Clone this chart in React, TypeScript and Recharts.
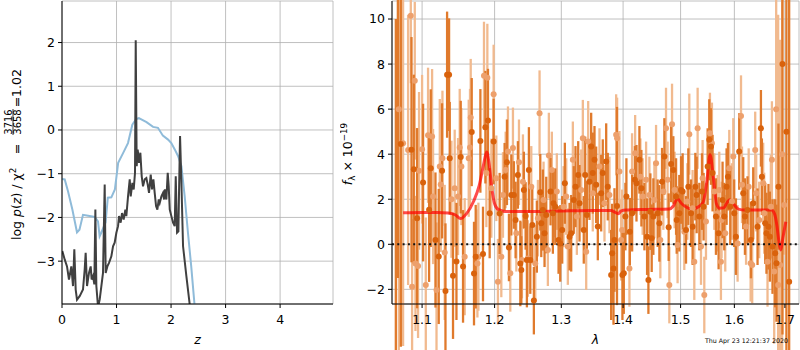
import React from 'react';
import {
  LineChart,
  ComposedChart,
  Line,
  Scatter,
  ErrorBar,
  XAxis,
  YAxis,
  CartesianGrid,
  ReferenceLine,
} from 'recharts';

const FONT = 'DejaVu Sans';

// ---------- Left panel: log p(z) ----------
const pzBlueZ = [0, 0.05, 0.11, 0.19, 0.275, 0.32, 0.385, 0.48, 0.6, 0.66, 0.69, 0.72, 0.8, 0.84, 0.905, 0.97, 1.03, 1.12, 1.21, 1.29, 1.36, 1.41, 1.55, 1.67, 1.76, 1.85, 1.945, 2.005, 2.07, 2.13, 2.19, 2.25, 2.31, 2.37, 2.43, 2.5];
const pzBlueLogP = [-1.12, -1.13, -1.4, -1.82, -2.34, -2.28, -1.94, -1.96, -1.99, -2.09, -2.43, -2.35, -2.11, -1.55, -1.54, -1.36, -0.75, -0.53, -0.3, 0.12, 0.25, 0.27, 0.18, 0.07, 0.05, -0.13, -0.22, -0.3, -0.45, -0.6, -0.83, -1.52, -2.35, -3.12, -3.99, -4.8];

const pzDarkZ = [0.006, 0.049, 0.092, 0.128, 0.171, 0.202, 0.226, 0.251, 0.275, 0.324, 0.385, 0.416, 0.434, 0.459, 0.495, 0.526, 0.544, 0.569, 0.593, 0.612, 0.63, 0.661, 0.691, 0.722, 0.752, 0.783, 0.801, 0.832, 0.862, 0.905, 0.936, 0.966, 0.997, 1.028, 1.046, 1.076, 1.101, 1.131, 1.162, 1.18, 1.211, 1.242, 1.26, 1.291, 1.315, 1.339, 1.352, 1.37, 1.388, 1.413, 1.437, 1.462, 1.486, 1.517, 1.547, 1.572, 1.596, 1.627, 1.651, 1.676, 1.7, 1.725, 1.749, 1.774, 1.792, 1.823, 1.853, 1.872, 1.89, 1.914, 1.939, 1.957, 1.976, 2.006, 2.037, 2.067, 2.086, 2.11, 2.135, 2.147, 2.165, 2.19, 2.22, 2.281, 2.343, 2.4];
const pzDarkLogP = [-2.77, -2.96, -3.12, -3.42, -3.12, -3.57, -2.73, -3.65, -3.88, -3.8, -3.65, -3.19, -2.81, -3.57, -3.27, -3.12, -3.42, -3.34, -3.53, -1.82, -3.57, -4.05, -3.88, -3.57, -3.27, -1.25, -3.27, -3.12, -3.04, -2.89, -2.66, -2.58, -2.35, -2.2, -1.97, -2.12, -1.9, -2.05, -1.82, -1.97, -1.52, -1.13, -1.52, -1.21, -1.36, -0.98, 2.05, -0.83, -0.45, -0.75, -0.52, -1.06, -1.29, -1.13, -1.1, -1.25, -1.44, -1.02, -1.36, -1.13, -1.44, -1.74, -1.82, -1.59, -1.67, -1.52, -1.44, -1.59, -1.36, -1.59, -0.98, -1.29, -1.82, -1.97, -2.12, -2.2, -1.06, -2.35, -2.32, -1.36, -0.14, -1.21, -2.66, -3.34, -4.0, -4.8];

const zTicks = [0, 1, 2, 3, 4];
const logpTicks = [-3, -2, -1, 0, 1, 2];

// ---------- Right panel: spectrum ----------
// [lambda (micron), flux (1e-19), error]
const grismA: [number, number, number][] = [
  [1.0697, 6, 12], [1.0752, 4.49, 9], [1.0817, 4.19, 6], [1.0852, 10.15, 3], [1.0869, -1.88, 3], [1.0904, 7.26, 3.5], [1.0913, -0.85, 3], [1.0947, -0.96, 3.2], [1.096, 3.26, 3.5], [1.1, 4.22, 3.3],
  [1.1049, -1.81, 3], [1.1079, 4.84, 3], [1.1133, 4.78, 3], [1.1146, 2.12, 3], [1.1192, -2.03, 3], [1.1236, 3.45, 3], [1.1249, 2.66, 3], [1.1272, 3.82, 3], [1.1303, -0.36, 3], [1.1394, 2.0, 2.6],
  [1.1439, 2.49, 2.6], [1.1485, 2.12, 2.6], [1.1508, 4.3, 2.6], [1.1531, 3.45, 2.6], [1.1577, -0.55, 2.6], [1.1633, 3.82, 2.6], [1.1651, 4.3, 2.6], [1.1661, 5.63, 2.6], [1.1755, -0.85, 2.4], [1.1769, -0.55, 2.4],
  [1.1848, 7.48, 2.4], [1.1882, 3.16, 2.4], [1.1896, 7.39, 2.4], [1.1953, 2.49, 2.2], [1.1986, 6.66, 2.2], [1.2025, 2.93, 1.9], [1.2048, -1.66, 1.9], [1.2097, -0.55, 1.8], [1.2121, 2.19, 1.9], [1.216, 3.3, 1.7],
  [1.2194, 4.12, 2.0], [1.2228, -1.29, 1.7], [1.2267, 4.27, 1.8], [1.2317, 0.49, 1.7], [1.2356, 3.64, 1.9], [1.24, -0.7, 1.7], [1.2415, 2.78, 2.1], [1.2489, -0.63, 1.7], [1.254, 2.56, 1.8], [1.26, -0.85, 1.7],
  [1.264, 1.16, 1.7], [1.2665, 5.82, 1.9], [1.2726, 1.97, 1.7], [1.2792, -0.25, 1.6], [1.2807, 3.94, 1.9], [1.2853, 3.3, 1.7], [1.293, 2.34, 1.7], [1.3035, 1.67, 1.8], [1.3077, 2.12, 1.7], [1.3102, -0.1, 1.7],
  [1.3181, 3.75, 1.7], [1.3245, 1.23, 1.7], [1.3314, 2.41, 1.8], [1.334, 4.71, 1.7], [1.3394, -0.33, 1.7], [1.3426, 4.56, 1.8], [1.35, 2.27, 1.7], [1.3609, 3.45, 1.7], [1.3691, 1.82, 1.7], [1.3773, 2.19, 1.7],
  [1.3884, 4.86, 1.8], [1.39, 4.71, 1.8], [1.3939, 3.23, 1.8], [1.3967, 0.19, 1.8], [1.3984, 0.63, 1.8], [1.4107, -1.07, 1.7], [1.4152, 3.23, 1.7], [1.4204, 4.04, 1.7], [1.4294, 3.0, 1.7], [1.4333, 2.12, 1.7],
  [1.4392, 2.86, 1.7], [1.4449, 2.19, 1.7], [1.4536, 1.97, 1.7], [1.4565, 3.6, 1.7], [1.464, 0.19, 1.7], [1.4693, 2.34, 1.7], [1.474, 5.15, 1.8], [1.4768, 2.86, 1.7], [1.4799, -1.81, 1.7], [1.4847, 5.33, 1.8],
  [1.4893, 2.41, 1.7], [1.4946, -0.03, 1.7], [1.5067, 0.56, 1.7], [1.5122, 1.9, 1.7], [1.5158, 4.89, 1.8], [1.5218, 1.6, 1.7], [1.5249, -0.77, 1.7], [1.531, 5.15, 1.8], [1.5372, -0.1, 1.7], [1.5402, 2.93, 1.7],
  [1.5433, -2.25, 1.7], [1.5464, 1.01, 1.7], [1.5538, 4.93, 1.8], [1.5575, 4.49, 1.8], [1.5619, 2.34, 1.7], [1.5681, 1.38, 1.7], [1.5713, 2.41, 1.7], [1.5744, -0.77, 1.7], [1.5756, 1.08, 1.7], [1.5826, 0.49, 1.7],
  [1.5902, 3.38, 1.7], [1.5954, 1.9, 1.7], [1.5979, 3.9, 1.7], [1.6062, 0.04, 1.7], [1.6128, 5.7, 1.8], [1.6147, 2.64, 1.7], [1.6226, 0.79, 1.7], [1.6277, 2.56, 1.7], [1.6315, -0.84, 1.7], [1.6346, -0.92, 1.7],
  [1.6405, 4.19, 1.7], [1.6425, 2.27, 1.7], [1.6484, 1.08, 1.7], [1.6563, 2.71, 1.8], [1.6583, 1.38, 1.8], [1.6649, -0.77, 2.0], [1.6716, 1.67, 2.3], [1.6737, 3.75, 2.6], [1.6783, -1.21, 3.2], [1.6823, 6, 6],
  [1.6863, -1.81, 12], [1.6903, -0.92, 10], [1.6944, 4, 9], [1.6985, 1.74, 2.2],
];

const grismB: [number, number, number][] = [
  [1.0659, -3.0, 13], [1.0685, 11.5, 13], [1.0723, 4.45, 9], [1.0861, 4.2, 5], [1.0891, 3.33, 4.2], [1.0934, 1.16, 4], [1.1013, 2.74, 3.5], [1.1093, 1.53, 3.2], [1.1115, 3.38, 3.5], [1.1178, 0.19, 3],
  [1.1222, -0.54, 3], [1.1267, 3.26, 3], [1.1313, -2.07, 3], [1.1335, 7.53, 2.8], [1.1362, 7.53, 2.5], [1.1371, 3.82, 2.5], [1.1416, -1.4, 2.8], [1.1463, -0.76, 2.6], [1.1522, 3.87, 2.5], [1.1554, -0.98, 2.5],
  [1.1675, 4.98, 2.4], [1.1707, -1.3, 2.3], [1.1731, -0.55, 2.3], [1.1797, 4.59, 2.3], [1.1834, -0.43, 2.1], [1.1868, 5.2, 2.5], [1.1905, 5.49, 2.3], [1.1929, 1.38, 2.0], [1.1986, 4.56, 1.9], [1.2073, 1.37, 1.8],
  [1.2145, 3.0, 1.5], [1.2179, 3.64, 1.9], [1.2208, -0.14, 1.5], [1.2243, 2.19, 1.8], [1.2281, 2.19, 1.5], [1.2306, 1.08, 1.7], [1.234, 3.08, 1.5], [1.2376, -0.85, 1.9], [1.2391, -1.14, 1.5], [1.2429, 2.41, 1.7],
  [1.2455, 1.26, 1.5], [1.2474, -0.7, 2.1], [1.2504, 3.3, 1.9], [1.2525, -0.7, 1.5], [1.2555, 0.86, 1.7], [1.2579, -2.5, 1.5], [1.2624, 0.34, 1.6], [1.2676, 2.31, 1.7], [1.2691, 0.93, 1.5], [1.2715, 1.52, 1.8],
  [1.2741, 0.49, 1.5], [1.2767, 1.3, 1.7], [1.2833, 2.34, 1.5], [1.2869, 1.38, 1.8], [1.2879, 1.82, 1.5], [1.2906, 1.67, 1.7], [1.2957, 0.19, 1.5], [1.2983, 0.04, 1.7], [1.3014, 0.64, 1.5], [1.3055, 2.71, 1.8],
  [1.3129, 0.34, 1.5], [1.3155, 0.49, 1.7], [1.3196, 1.97, 1.5], [1.3223, 2.56, 1.8], [1.3266, 3.08, 1.5], [1.3287, 1.82, 1.7], [1.3355, 0.64, 1.5], [1.3378, 3.08, 1.7], [1.3404, 1.3, 1.5], [1.3447, 2.78, 1.7],
  [1.3474, 4.34, 1.5], [1.35, 3.16, 1.8], [1.3528, 3.75, 1.5], [1.3555, 2.64, 1.7], [1.3582, 0.79, 1.5], [1.3637, 2.27, 1.7], [1.3663, 3.16, 1.5], [1.3719, 3.67, 1.7], [1.3745, 2.56, 1.5], [1.3801, -1.36, 2.0],
  [1.3818, -0.4, 2.2], [1.384, -1.07, 2.5], [1.3856, 0.19, 2.3], [1.3898, 1.7, 4.4], [1.3989, -1.36, 2.0], [1.4012, -1.29, 1.8], [1.4039, 1.23, 1.5], [1.4056, 2.12, 1.7], [1.4114, 0.56, 1.5], [1.4153, 1.38, 1.7],
  [1.42, 2.86, 1.5], [1.4227, 2.71, 1.7], [1.4277, 3.75, 1.5], [1.4311, 2.49, 1.7], [1.4363, 1.23, 1.5], [1.4409, 0.34, 1.7], [1.4432, -1.59, 1.5], [1.4466, 1.45, 1.7], [1.4489, 0.27, 1.5], [1.4518, 1.23, 1.7],
  [1.4593, 1.38, 1.5], [1.4623, 0.93, 1.7], [1.467, 2.78, 1.5], [1.4711, 3.9, 1.7], [1.4787, 0.76, 1.5], [1.483, 3.57, 1.7], [1.487, 3.3, 1.5], [1.4919, 2.12, 1.7], [1.493, 1.08, 1.5], [1.4977, 1.38, 1.7],
  [1.5008, 2.41, 1.5], [1.5037, 2.34, 1.7], [1.5098, 0.64, 1.5], [1.514, 2.56, 1.7], [1.5189, 1.38, 1.5], [1.5218, 0.78, 1.7], [1.5268, 2.56, 1.5], [1.5292, 2.19, 1.7], [1.5341, 1.23, 1.5], [1.539, 2.34, 1.7],
  [1.542, 1.67, 1.5], [1.5495, 3.45, 1.7], [1.5525, 4.64, 1.8], [1.5557, 4.34, 1.7], [1.5587, 3.16, 1.7], [1.565, 1.23, 1.7], [1.57, 0.49, 1.6], [1.5775, 1.97, 1.7], [1.5807, 1.23, 1.5], [1.5851, 2.56, 1.7],
  [1.5877, 3.0, 1.5], [1.5921, 1.67, 1.7], [1.5997, 1.38, 1.5], [1.603, 0.34, 1.7], [1.6093, 4.12, 1.7], [1.6171, 2.27, 1.6], [1.6204, 1.23, 1.7], [1.6254, 1.52, 1.5], [1.6321, 0.19, 1.7], [1.6366, 1.82, 1.6],
  [1.6451, 0.78, 1.7], [1.6518, 5.15, 1.7], [1.6537, 3.0, 1.7], [1.6603, 0.93, 1.8], [1.6628, 0.49, 1.8], [1.6668, 0.78, 1.9], [1.6696, 0.34, 2.0], [1.6749, -0.1, 2.1], [1.6803, -0.4, 2.4], [1.6829, -0.84, 2.6],
  [1.6869, 2.56, 2.8], [1.695, 8, 12], [1.7031, 5, 12], [1.7087, -1.66, 13],
];

const modelLam = [1.0753, 1.1, 1.12, 1.135, 1.145, 1.152, 1.16, 1.17, 1.178, 1.184, 1.1886, 1.192, 1.196, 1.2, 1.205, 1.215, 1.25, 1.3, 1.35, 1.38, 1.386, 1.392, 1.397, 1.405, 1.44, 1.48, 1.487, 1.494, 1.502, 1.512, 1.519, 1.53, 1.541, 1.548, 1.554, 1.56, 1.566, 1.572, 1.58, 1.586, 1.591, 1.598, 1.608, 1.62, 1.65, 1.673, 1.679, 1.684, 1.688, 1.6917, 1.696, 1.7018];
const modelFlux = [1.4, 1.41, 1.41, 1.39, 1.3, 1.14, 1.35, 1.9, 2.6, 3.5, 4.1, 3.6, 2.5, 1.8, 1.55, 1.46, 1.46, 1.48, 1.5, 1.5, 1.43, 1.36, 1.48, 1.52, 1.55, 1.57, 1.7, 2.02, 1.8, 1.63, 1.56, 1.63, 1.85, 2.8, 3.97, 3.0, 1.8, 1.6, 1.62, 1.85, 1.98, 1.8, 1.56, 1.52, 1.52, 1.52, 1.35, 0.8, 0.1, -0.25, 0.3, 1.0];

const lamTicks = [1.1, 1.2, 1.3, 1.4, 1.5, 1.6, 1.7];
const fluxTicks = [-2, 0, 2, 4, 6, 8, 10];

const pzBlue = pzBlueZ.map((x, i) => ({ x, y: pzBlueLogP[i] }));
const pzDark = pzDarkZ.map((x, i) => ({ x, y: pzDarkLogP[i] }));
const specA = grismA.map(([x, y, e]) => ({ x, y, e }));
const specB = grismB.map(([x, y, e]) => ({ x, y, e }));
const model = modelLam.map((x, i) => ({ x, y: modelFlux[i] }));

const fmt = (v: number) => (v < 0 ? '\u2212' + Math.abs(v) : String(v));
const tickStyle = { fill: '#000', fontSize: 12.5, fontFamily: FONT };

const vbOr = (p: any, d: { x: number; y: number; width: number; height: number }) => {
  const vb = p && p.viewBox;
  if (vb && typeof vb.x === 'number' && typeof vb.width === 'number') return vb;
  return d;
};

const LeftYLabel = (p: any) => {
  const vb = vbOr(p, { x: 0, y: 1, width: 62, height: 303 });
  const bx = vb.x + 21;
  const by = vb.y + 239;
  return (
    <g transform={`translate(${bx},${by}) rotate(-90)`} fontFamily={FONT}>
      <text x={0} y={0} fontSize={12.5} fill="#000">
        log <tspan fontStyle="italic">p</tspan>(<tspan fontStyle="italic">z</tspan>) / χ<tspan fontSize={8.75} dy={-5}>2</tspan>
      </text>
      <text x={91} y={0} fontSize={12.5} textAnchor="middle" fill="#000">=</text>
      <text x={118} y={-9.5} fontSize={10} textAnchor="middle" fill="#000">3716</text>
      <line x1={105} x2={131} y1={-8} y2={-8} stroke="#000" strokeWidth={0.8} />
      <text x={118} y={0} fontSize={10} textAnchor="middle" fill="#000">3658</text>
      <text x={138} y={0} fontSize={12.5} textAnchor="middle" fill="#000">=</text>
      <text x={157} y={0} fontSize={12.5} textAnchor="middle" fill="#000">1.02</text>
    </g>
  );
};

const LeftXLabel = (p: any) => {
  const vb = vbOr(p, { x: 62, y: 304, width: 271, height: 46 });
  return (
    <text x={vb.x + vb.width / 2} y={vb.y + 40} textAnchor="middle" fontFamily={FONT} fontSize={12.5} fontStyle="italic" fill="#000">
      z
    </text>
  );
};

const LeftAnnot = (p: any) => {
  const vb = vbOr(p, { x: 62, y: 1, width: 271, height: 0 });
  const xr = vb.x + vb.width - 14.5;
  return (
    <g fontFamily={FONT} fontSize={12.5}>
      <text x={xr} y={vb.y + 24} textAnchor="end" fill="#000">j003548m4312</text>
      <text x={xr} y={vb.y + 37} textAnchor="end" fill="#000" style={{ whiteSpace: 'pre' }}>
        {'ID=2480   z=1.3711'}
      </text>
    </g>
  );
};

const RightYLabel = (p: any) => {
  const vb = vbOr(p, { x: 0, y: 1, width: 52, height: 303 });
  const bx = vb.x + 12;
  const by = vb.y + 153;
  return (
    <g transform={`translate(${bx},${by}) rotate(-90)`} fontFamily={FONT}>
      <text x={0} y={0} fontSize={12.5} textAnchor="middle" fill="#000">
        <tspan fontStyle="italic">f</tspan><tspan fontSize={8.75} dy={3}>λ</tspan><tspan dy={-3}>{' × 10'}</tspan><tspan fontSize={8.75} dy={-5}>−19</tspan>
      </text>
    </g>
  );
};

const RightXLabel = (p: any) => {
  const vb = vbOr(p, { x: 52, y: 304, width: 407, height: 46 });
  return (
    <g fontFamily={FONT}>
      <text x={vb.x + vb.width / 2} y={vb.y + 40} textAnchor="middle" fontSize={12.5} fontStyle="italic" fill="#000">
        λ
      </text>
      <text x={vb.x + vb.width - 11} y={vb.y + 39} textAnchor="end" fontSize={6.3} fill="#000">
        Thu Apr 23 12:21:37 2020
      </text>
    </g>
  );
};

const DotA = (p: any) =>
  p.cx == null || p.cy == null ? <g /> : <circle cx={p.cx} cy={p.cy} r={3} fill="#eda06c" />;
const DotB = (p: any) =>
  p.cx == null || p.cy == null ? <g /> : <circle cx={p.cx} cy={p.cy} r={3} fill="#d9620c" />;

export default function App() {
  return (
    <div style={{ position: 'absolute', left: 0, top: 0, width: 800, height: 350, background: '#fff' }}>
      <div style={{ position: 'absolute', left: 0, top: 0 }}>
        <LineChart width={340} height={350} margin={{ top: 1, right: 7, bottom: 0, left: 0 }}>
          <CartesianGrid stroke="#b0b0b0" strokeWidth={0.8} />
          <XAxis
            type="number"
            dataKey="x"
            domain={[0, 4.97]}
            ticks={zTicks}
            allowDataOverflow
            height={46}
            stroke="#000"
            tickSize={4}
            tickMargin={7}
            tick={tickStyle}
            tickFormatter={fmt}
            interval={0}
            label={LeftXLabel}
          />
          <XAxis xAxisId="top" orientation="top" type="number" domain={[0, 1]} height={0} tick={false} tickLine={false} stroke="#000" label={LeftAnnot} />
          <YAxis
            type="number"
            dataKey="y"
            domain={[-3.98, 2.95]}
            ticks={logpTicks}
            allowDataOverflow
            width={62}
            stroke="#000"
            tickSize={4}
            tickMargin={3}
            tick={tickStyle}
            tickFormatter={fmt}
            interval={0}
            label={LeftYLabel}
          />
          <YAxis yAxisId="right" orientation="right" type="number" domain={[0, 1]} width={0} tick={false} tickLine={false} stroke="#000" />
          <Line data={pzBlue} dataKey="y" type="linear" stroke="#8fbbd9" strokeWidth={2} dot={false} isAnimationActive={false} />
          <Line data={pzDark} dataKey="y" type="linear" stroke="#404040" strokeWidth={2} dot={false} isAnimationActive={false} />
        </LineChart>
      </div>
      <div style={{ position: 'absolute', left: 340, top: 0 }}>
        <ComposedChart width={460} height={350} margin={{ top: 1, right: 1, bottom: 0, left: 0 }}>
          <CartesianGrid stroke="#b0b0b0" strokeWidth={0.8} />
          <XAxis
            type="number"
            dataKey="x"
            scale="log"
            domain={[1.061, 1.729]}
            ticks={lamTicks}
            allowDataOverflow
            height={46}
            stroke="#000"
            tickSize={4}
            tickMargin={7}
            tick={tickStyle}
            tickFormatter={fmt}
            interval={0}
            label={RightXLabel}
          />
          <XAxis xAxisId="top" orientation="top" type="number" domain={[0, 1]} height={0} tick={false} tickLine={false} stroke="#000" />
          <YAxis
            type="number"
            dataKey="y"
            domain={[-2.65, 10.8]}
            ticks={fluxTicks}
            allowDataOverflow
            width={52}
            stroke="#000"
            tickSize={4}
            tickMargin={3}
            tick={tickStyle}
            tickFormatter={fmt}
            interval={0}
            label={RightYLabel}
          />
          <YAxis yAxisId="right" orientation="right" type="number" domain={[0, 1]} width={0} tick={false} tickLine={false} stroke="#000" />
          <Scatter data={specA} dataKey="y" shape={DotA} isAnimationActive={false}>
            <ErrorBar dataKey="e" direction="y" width={0} stroke="#f1ba8f" strokeWidth={2.3} isAnimationActive={false} />
          </Scatter>
          <Scatter data={specB} dataKey="y" shape={DotB} isAnimationActive={false}>
            <ErrorBar dataKey="e" direction="y" width={0} stroke="#e07a2c" strokeWidth={2.3} isAnimationActive={false} />
          </Scatter>
          <Line data={model} dataKey="y" type="monotone" stroke="#ff0000" strokeOpacity={0.7} strokeWidth={3} dot={false} isAnimationActive={false} />
          <ReferenceLine y={0} stroke="#111" strokeWidth={2} strokeDasharray="2 3.3" />
        </ComposedChart>
      </div>
    </div>
  );
}
